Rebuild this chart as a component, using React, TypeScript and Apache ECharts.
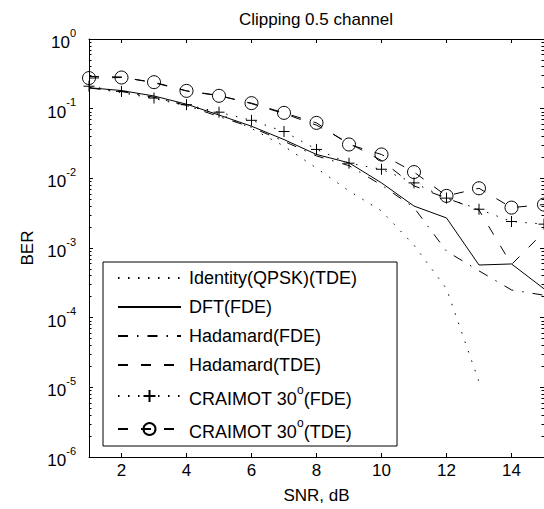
import React, { useEffect, useRef } from "react";
import * as echarts from "echarts";

// ---- data ----
const snr = [1, 2, 3, 4, 5, 6, 7, 8, 9, 10, 11, 12, 13, 14, 15];
const seriesNames = [
  "Identity(QPSK)(TDE)",
  "DFT(FDE)",
  "Hadamard(FDE)",
  "Hadamard(TDE)",
  "CRAIMOT 30o(FDE)",
  "CRAIMOT 30o(TDE)",
];
const identityQpskTde = [0.2, 0.17, 0.14, 0.11, 0.085, 0.052, 0.029, 0.014, 0.0066, 0.0034, 0.0011, 0.00026, 0.000012];
const dftFde = [0.2, 0.182, 0.152, 0.116, 0.081, 0.056, 0.036, 0.022, 0.0167, 0.0086, 0.004, 0.0027, 0.00057, 0.00059, 0.00026];
const hadamardFde = [0.198, 0.176, 0.146, 0.111, 0.077, 0.054, 0.034, 0.021, 0.0152, 0.008, 0.0038, 0.0009, 0.00047, 0.00025, 0.00021];
const hadamardTde = [0.29, 0.285, 0.235, 0.18, 0.155, 0.118, 0.085, 0.058, 0.032, 0.018, 0.0078, 0.0052, 0.0035, 0.00058, 0.0017];
const craimotFde = [0.21, 0.177, 0.142, 0.114, 0.089, 0.068, 0.047, 0.026, 0.0165, 0.0135, 0.0086, 0.0052, 0.0036, 0.0024, 0.0022];
const craimotTde = [0.275, 0.28, 0.24, 0.18, 0.153, 0.12, 0.087, 0.0625, 0.0306, 0.022, 0.0123, 0.0056, 0.0072, 0.0038, 0.0042];
const xTickValues = [2, 4, 6, 8, 10, 12, 14];

const FONT = "'Liberation Sans', Arial, Helvetica, sans-serif";
const BLACK = "#000";

const DOTTED = [1.5, 8.5];
const DASHED = [10, 13];
const DASHDOT = [10, 9, 1.5, 9];

function pts(vals: number[]) {
  return vals.map((v, i) => [snr[i], v]);
}

function legendLabel(name: string) {
  if (name.indexOf("30o") >= 0) {
    const [a, b] = name.split("30o");
    return `{n|${a}30}{s|o}{n|${b}}`;
  }
  return name;
}

export default function App() {
  const ref = useRef<HTMLDivElement>(null);

  useEffect(() => {
    if (!ref.current) return;
    const chart = echarts.init(ref.current, undefined, { renderer: "svg" });

    const noMarker = {
      symbol: "none",
      showSymbol: false,
      itemStyle: { color: "transparent", borderWidth: 0 },
    };

    const yCommon = {
      type: "log" as const,
      logBase: 10,
      min: 1e-6,
      max: 1,
      splitNumber: 6,
      splitLine: { show: false },
      axisLine: { show: true, lineStyle: { color: BLACK, width: 1 } },
      axisTick: { show: true, inside: true, length: 4, lineStyle: { color: BLACK, width: 1 } },
      minorTick: { show: true, splitNumber: 9, length: 2.5, lineStyle: { color: BLACK, width: 1 } },
    };

    const xCommon = {
      type: "value" as const,
      min: 1,
      max: 15,
      splitLine: { show: false },
      axisLine: { show: true, lineStyle: { color: BLACK, width: 1 } },
      axisTick: {
        show: true,
        inside: true,
        length: 4,
        customValues: xTickValues,
        lineStyle: { color: BLACK, width: 1 },
      },
    };

    const option: any = {
      animation: false,
      backgroundColor: "#fff",
      title: {
        text: "Clipping 0.5 channel",
        left: 316,
        top: 11,
        padding: 0,
        textAlign: "center",
        textStyle: { fontFamily: FONT, fontSize: 17, fontWeight: "normal", color: BLACK },
      },
      grid: { left: 89, top: 39, width: 456, height: 420 },
      xAxis: [
        {
          ...xCommon,
          position: "bottom",
          name: "SNR, dB",
          nameLocation: "middle",
          nameGap: 30,
          nameTextStyle: { fontFamily: FONT, fontSize: 17, color: BLACK },
          axisLabel: {
            customValues: xTickValues,
            margin: 5,
            fontFamily: FONT,
            fontSize: 17,
            color: BLACK,
          },
        },
        {
          ...xCommon,
          position: "top",
          axisLabel: { show: false },
        },
      ],
      yAxis: [
        {
          ...yCommon,
          position: "left",
          name: "BER",
          nameLocation: "middle",
          nameGap: 46,
          nameTextStyle: { fontFamily: FONT, fontSize: 17, color: BLACK },
          axisLabel: {
            margin: 13,
            formatter: (v: number) => `{b|10}{e|${Math.round(Math.log10(v))}}`,
            rich: {
              b: { fontFamily: FONT, fontSize: 17, color: BLACK, lineHeight: 24, verticalAlign: "bottom" },
              e: { fontFamily: FONT, fontSize: 11, color: BLACK, lineHeight: 10, verticalAlign: "top" },
            },
          },
        },
        {
          ...yCommon,
          position: "right",
          axisLabel: { show: false },
        },
      ],
      legend: {
        orient: "vertical",
        left: 103,
        top: 262,
        itemWidth: 63,
        itemHeight: 15,
        itemGap: 9,
        padding: [6, 40, 5, 14],
        borderColor: BLACK,
        borderWidth: 1,
        backgroundColor: "#fff",
        selectedMode: false,
        data: seriesNames,
        formatter: legendLabel,
        textStyle: {
          fontFamily: FONT,
          fontSize: 18,
          color: BLACK,
          lineHeight: 20,
          padding: [0, 0, 0, 3],
          rich: {
            n: { fontFamily: FONT, fontSize: 18, color: BLACK, lineHeight: 24, verticalAlign: "bottom" },
            s: { fontFamily: FONT, fontSize: 12, color: BLACK, lineHeight: 10, verticalAlign: "top" },
          },
        },
      },
      series: [
        {
          name: seriesNames[0],
          type: "line",
          data: pts(identityQpskTde),
          ...noMarker,
          lineStyle: { color: BLACK, width: 1, type: DOTTED },
        },
        {
          name: seriesNames[1],
          type: "line",
          data: pts(dftFde),
          ...noMarker,
          lineStyle: { color: BLACK, width: 1, type: "solid" },
        },
        {
          name: seriesNames[2],
          type: "line",
          data: pts(hadamardFde),
          ...noMarker,
          lineStyle: { color: BLACK, width: 1, type: DASHDOT },
        },
        {
          name: seriesNames[3],
          type: "line",
          data: pts(hadamardTde),
          ...noMarker,
          lineStyle: { color: BLACK, width: 1, type: DASHED },
        },
        {
          name: seriesNames[4],
          type: "line",
          data: pts(craimotFde),
          symbol: "path://M5,0L5,10M0,5L10,5",
          symbolSize: 11,
          showSymbol: true,
          itemStyle: { color: "transparent", borderColor: BLACK, borderWidth: 1 },
          lineStyle: { color: BLACK, width: 1, type: DOTTED },
        },
        {
          name: seriesNames[5],
          type: "line",
          data: pts(craimotTde),
          symbol: "circle",
          symbolSize: 13,
          showSymbol: true,
          itemStyle: { color: "transparent", borderColor: BLACK, borderWidth: 1 },
          lineStyle: { color: BLACK, width: 1, type: DASHED },
        },
      ],
    };

    chart.setOption(option);
    return () => chart.dispose();
  }, []);

  return (
    <div
      ref={ref}
      style={{ position: "fixed", left: 0, top: 0, width: 544, height: 509, background: "#fff" }}
    />
  );
}
